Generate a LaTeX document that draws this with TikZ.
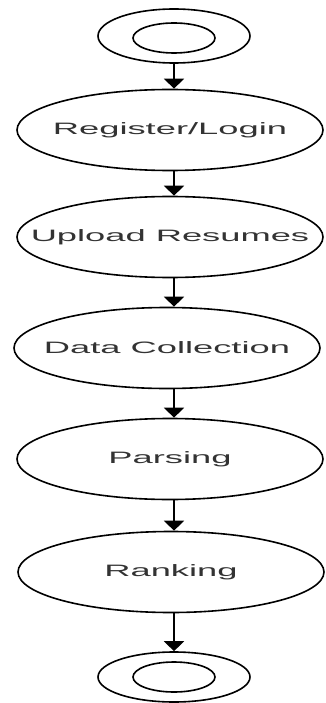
\documentclass[tikz,border=0pt]{standalone}
\usepackage{fontspec}
\newfontfamily\flowfont[FakeStretch=2.2]{Liberation Sans}
\usetikzlibrary{shapes.geometric,arrows.meta}

\begin{document}
\begin{tikzpicture}[x=1pt,y=-1pt,
  state/.style={draw,ellipse,line width=1.6pt,inner sep=0pt,minimum width=306pt,minimum height=81pt},
  ring/.style={draw,ellipse,line width=1.6pt,inner sep=0pt},
  every label/.style={font=\fontsize{16.5}{18}\flowfont,text=black!80,inner sep=0pt},
  flow/.style={line width=1.2pt,-{Triangle[width=20pt,length=10pt]}}]
\useasboundingbox (0,0) rectangle (326,703);
\node [ring,minimum width=152pt,minimum height=54pt] (start) at (174,36) {};
\node [ring,minimum width=82pt,minimum height=30pt] (startin) at (174,38) {};
\node [state,label={center:Register/Login}] (reg) at (170,130) {};
\node [state,label={center:Upload Resumes}] (upl) at (170,237) {};
\node [state,label={center:Data Collection}] (data) at (167,348) {};
\node [state,label={center:Parsing}] (pars) at (170,459) {};
\node [state,label={center:Ranking}] (rank) at (171,572) {};
\node [ring,minimum width=152pt,minimum height=50pt] (stop) at (174,677) {};
\node [ring,minimum width=82pt,minimum height=30pt] (stopin) at (174,677) {};
\draw [flow] (start.south) -- (reg.north -| start);
\draw [flow] (reg.south -| start) -- (upl.north -| start);
\draw [flow] (upl.south -| start) -- (data.north -| start);
\draw [flow] (data.south -| start) -- (pars.north -| start);
\draw [flow] (pars.south -| start) -- (rank.north -| start);
\draw [flow] (rank.south -| start) -- (stop.north);
\end{tikzpicture}
\end{document}
